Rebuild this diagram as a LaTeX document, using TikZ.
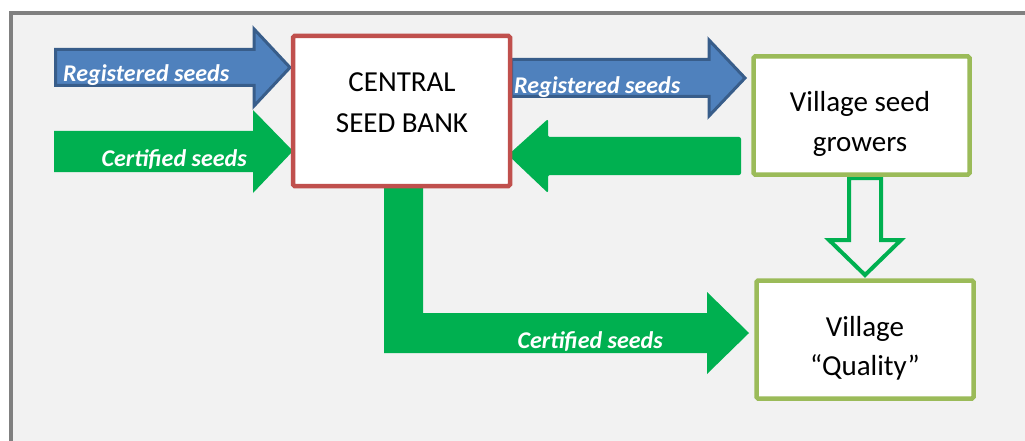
\documentclass[tikz,border=0pt]{standalone}
\usepackage{fontspec}
\setmainfont{Carlito}
\definecolor{panelbg}{HTML}{F2F2F2}
\definecolor{panelframe}{HTML}{808080}
\definecolor{bankred}{HTML}{C0504D}
\definecolor{regfill}{HTML}{4F81BD}
\definecolor{regedge}{HTML}{385D8A}
\definecolor{certgreen}{HTML}{00B050}
\definecolor{villageolive}{HTML}{9BBB59}
\begin{document}
\begin{tikzpicture}[x=1pt,y=-1pt,
  box/.style={draw, fill=white, line width=4.5pt, rounded corners=1.5pt, inner sep=0pt},
  boxtext/.style={anchor=base, inner sep=0pt, font=\fontsize{29}{34}\selectfont},
  regarrow/.style={fill=regfill, draw=regedge, line width=3pt, line join=miter},
  certarrow/.style={fill=certgreen},
  hollowarrow/.style={draw=certgreen, line width=4pt, line join=miter},
  flowlabel/.style={inner sep=0pt, text=white, font=\fontsize{24}{28}\selectfont\bfseries\itshape}]
\useasboundingbox (0,0) rectangle (1025,441);
\fill[white] (0,0) rectangle (1025,441);
% panel
\draw[fill=panelbg, draw=panelframe, line width=4pt] (11,13) rectangle (1045,470);

% block arrows
\draw[regarrow] (55.5,49.5) -- (254,49.5) -- (254,29) -- (290,67.5) -- (254,106) -- (254,85.5) -- (55.5,85.5) -- cycle;
\fill[certarrow] (54,131) -- (253,131) -- (253,110) -- (293,151) -- (253,193) -- (253,172) -- (54,172) -- cycle;
\draw[regarrow] (511.5,59.5) -- (709,59.5) -- (709,40) -- (745,78) -- (709,116) -- (709,96.5) -- (511.5,96.5) -- cycle;
\fill[certarrow, rounded corners=2pt] (741,137) -- (548,137) -- (548,119) -- (508,155) -- (548,193) -- (548,175) -- (741,175) -- cycle;
\fill[certarrow] (384,185) -- (423,185) -- (423,313) -- (707,313) -- (707,292) -- (749,333) -- (707,374) -- (707,353) -- (384,353) -- cycle;
\draw[hollowarrow] (849,178) -- (881,178) -- (881,240) -- (901,240) -- (865,275) -- (829,240) -- (849,240) -- cycle;

% arrow labels
\node[flowlabel, anchor=base west] (reg1) at (63,82) {Registered seeds};
\node[flowlabel, anchor=base east] (cert1) at (247,166) {Certified seeds};
\node[flowlabel, anchor=base west] (reg2) at (514,94) {Registered seeds};
\node[flowlabel, anchor=base east] (cert2) at (663,348) {Certified seeds};

% boxes
\node[box, draw=bankred, minimum width=217pt, minimum height=150pt] (bank) at (401.5,111) {};
\node[box, draw=villageolive, minimum width=216pt, minimum height=118pt] (growers) at (861.5,115.5) {};
\node[box, draw=villageolive, minimum width=217pt, minimum height=118pt] (quality) at (865,339.5) {};

\node[boxtext] (bankA) at (402,92) {CENTRAL};
\node[boxtext] (bankB) at (402,132) {SEED BANK};
\node[boxtext] (growA) at (860,112) {Village seed};
\node[boxtext] (growB) at (860,152) {growers};
\node[boxtext] (qualA) at (865,336) {Village};
\node[boxtext] (qualB) at (865,375) {“Quality”};
\end{tikzpicture}
\end{document}
